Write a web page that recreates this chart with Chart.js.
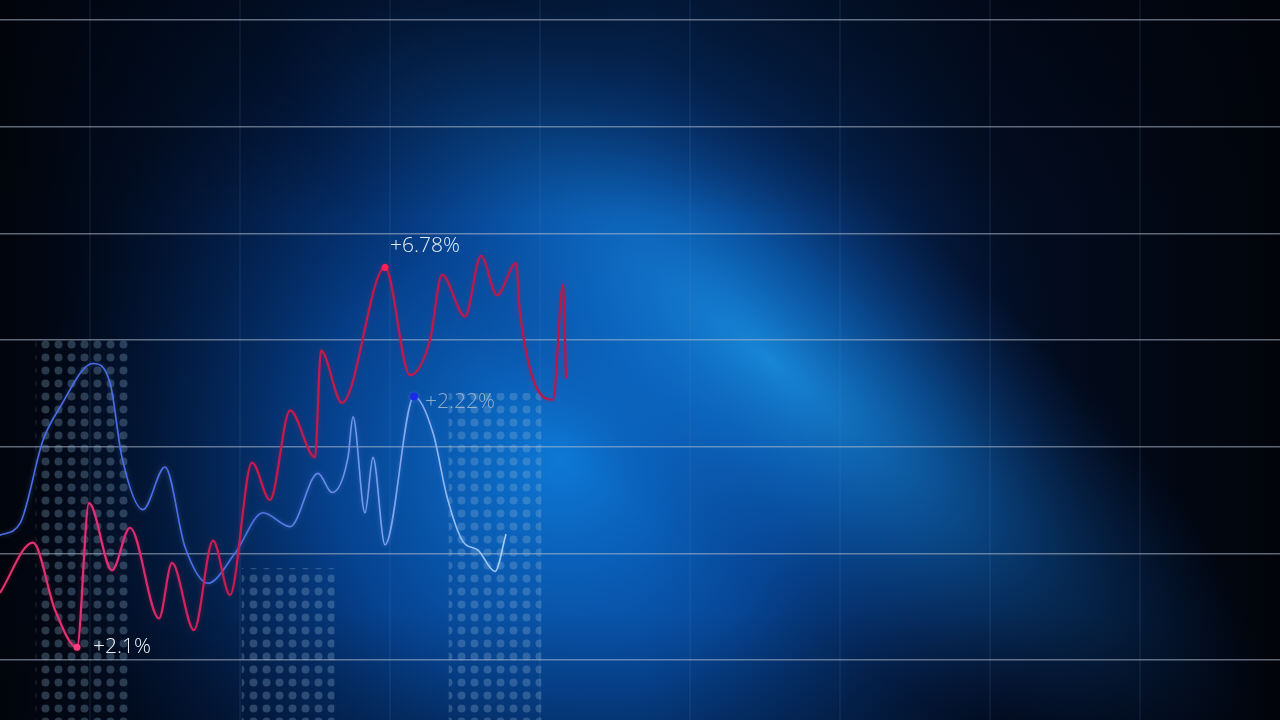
<!DOCTYPE html>
<html>
<head>
  <title>Market Lines</title>
  <script src="https://cdn.jsdelivr.net/npm/chart.js"></script>
  <style>
    html, body { margin: 0; padding: 0; background: #01050d; overflow: hidden; }
    canvas { display: block; }
  </style>
</head>
<body>
  <canvas id="market-chart" width="1280" height="720"></canvas>
  <script>
    // red series (time units, value units)
    var redX = [0, 3.3, 5.5, 7.7, 8.9, 11.2, 13.0, 15.9, 17.2, 19.4, 21.3, 23.0, 25.2, 27.0, 29.0, 31.5, 32.1, 34.2, 38.5, 41.0, 43.0, 44.2, 46.5, 48.1, 49.7, 51.6, 52.0, 55.3, 56.3, 56.6];
    var redY = [0.63, 1.10, 0.47, 0.12, 1.47, 0.84, 1.24, 0.39, 0.91, 0.28, 1.12, 0.61, 1.85, 1.50, 2.34, 1.90, 2.90, 2.41, 3.68, 2.67, 3.00, 3.61, 3.22, 3.79, 3.42, 3.72, 3.25, 2.44, 3.52, 2.64];

    // blue series
    var blueX = [0, 2.0, 4.3, 6.0, 9.3, 11.0, 12.2, 14.3, 16.5, 18.5, 20.8, 23.5, 26.3, 29.0, 31.8, 33.2, 34.8, 35.3, 36.5, 37.3, 38.5, 41.4, 43.3, 44.7, 46.3, 47.8, 49.5, 50.6];
    var blueY = [1.17, 1.28, 2.06, 2.37, 2.78, 2.60, 1.90, 1.41, 1.81, 1.06, 0.72, 1.00, 1.38, 1.25, 1.75, 1.57, 1.90, 2.28, 1.38, 1.90, 1.08, 2.47, 2.13, 1.53, 1.11, 1.03, 0.83, 1.18];

    // dotted volume columns
    var volX = [8.2, 28.8, 49.5];
    var volTop = [3.0, 0.86, 2.5];
    var volBase = -0.6;

    // callouts
    var calloutSeries = ['red', 'blue', 'red'];
    var calloutIndex = [18, 21, 3];
    var calloutText = ['+6.78%', '+2.22%', '+2.1%'];

    var yGrid = [0, 1, 2, 3, 4, 5, 6];
    var xGrid = [9, 24, 39, 54, 69, 84, 99, 114];

    function pts(xs, ys) {
      return xs.map(function (x, i) { return { x: x, y: ys[i] }; });
    }

    function dotPattern() {
      var c = document.createElement('canvas');
      c.width = 13; c.height = 13;
      var g = c.getContext('2d');
      g.fillStyle = 'rgba(150,185,220,0.28)';
      g.beginPath();
      g.arc(6.5, 6.5, 4, 0, Math.PI * 2);
      g.fill();
      return g.createPattern(c, 'repeat');
    }

    var background = {
      id: 'background',
      beforeDraw: function (chart) {
        var ctx = chart.ctx, w = chart.width, h = chart.height;
        ctx.save();
        var base = ctx.createLinearGradient(0, 0, w, 0);
        base.addColorStop(0, '#01040b');
        base.addColorStop(0.25, '#031a40');
        base.addColorStop(0.5, '#06306a');
        base.addColorStop(0.78, '#030d22');
        base.addColorStop(1, '#01040a');
        ctx.fillStyle = base;
        ctx.fillRect(0, 0, w, h);

        var glow = ctx.createRadialGradient(560, 460, 0, 560, 460, 520);
        glow.addColorStop(0, 'rgba(14,125,220,0.95)');
        glow.addColorStop(0.45, 'rgba(8,90,190,0.6)');
        glow.addColorStop(1, 'rgba(4,30,80,0)');
        ctx.fillStyle = glow;
        ctx.fillRect(0, 0, w, h);

        ctx.translate(770, 360);
        ctx.rotate(0.68);
        ctx.scale(1, 0.32);
        var beam = ctx.createRadialGradient(0, 0, 0, 0, 0, 620);
        beam.addColorStop(0, 'rgba(28,150,230,0.8)');
        beam.addColorStop(0.45, 'rgba(15,115,205,0.45)');
        beam.addColorStop(1, 'rgba(10,60,140,0)');
        ctx.fillStyle = beam;
        ctx.fillRect(-700, -700, 1400, 1400);
        ctx.setTransform(1, 0, 0, 1, 0, 0);

        var top = ctx.createLinearGradient(0, 0, 0, h);
        top.addColorStop(0, 'rgba(0,3,10,0.5)');
        top.addColorStop(0.3, 'rgba(0,3,10,0)');
        top.addColorStop(0.85, 'rgba(0,3,10,0)');
        top.addColorStop(1, 'rgba(0,3,10,0.2)');
        ctx.fillStyle = top;
        ctx.fillRect(0, 0, w, h);
        ctx.restore();
      }
    };

    var glowLines = {
      id: 'glowLines',
      beforeDatasetDraw: function (chart, args) {
        if (args.meta.type !== 'line') return;
        chart.ctx.save();
        chart.ctx.shadowColor = args.index === 0 ? 'rgba(200,20,70,0.4)' : 'rgba(90,140,240,0.45)';
        chart.ctx.shadowBlur = 4;
      },
      afterDatasetDraw: function (chart, args) {
        if (args.meta.type !== 'line') return;
        chart.ctx.restore();
      }
    };

    var callouts = {
      id: 'callouts',
      afterDatasetsDraw: function (chart, args, opts) {
        var ctx = chart.ctx, sx = chart.scales.x, sy = chart.scales.y;
        ctx.save();
        ctx.font = '300 21px "Open Sans", sans-serif';
        ctx.textBaseline = 'middle';
        calloutText.forEach(function (t, i) {
          var xs = calloutSeries[i] === 'red' ? redX : blueX;
          var ys = calloutSeries[i] === 'red' ? redY : blueY;
          var px = sx.getPixelForValue(xs[calloutIndex[i]]);
          var py = sy.getPixelForValue(ys[calloutIndex[i]]);
          ctx.fillStyle = opts.colors[i];
          ctx.fillText(t, px + opts.dx[i], py + opts.dy[i]);
        });
        ctx.restore();
      }
    };

    var ctx = document.getElementById('market-chart').getContext('2d');

    var blueGrad = ctx.createLinearGradient(0, 0, 510, 0);
    blueGrad.addColorStop(0, '#4a6ae8');
    blueGrad.addColorStop(0.5, '#4e70e6');
    blueGrad.addColorStop(1, '#a8d2f4');
    var redGrad = ctx.createLinearGradient(0, 0, 570, 0);
    redGrad.addColorStop(0, '#e0306c');
    redGrad.addColorStop(0.2, '#e0307a');
    redGrad.addColorStop(0.4, '#c81a4e');
    redGrad.addColorStop(1, '#b8174a');

    function markerRadius(idx, size) {
      return function (c) { return idx.indexOf(c.dataIndex) >= 0 ? size : 0; };
    }

    var chart = new Chart(ctx, {
      type: 'line',
      data: {
        datasets: [{
          label: 'Red',
          data: pts(redX, redY),
          borderColor: redGrad,
          borderWidth: 2.2,
          cubicInterpolationMode: 'monotone',
          pointRadius: markerRadius([3, 18], 3.5),
          pointBackgroundColor: function (c) { return c.dataIndex === 3 ? '#ff3d7f' : '#ff1f55'; },
          pointBorderWidth: 0,
          order: 1
        }, {
          label: 'Blue',
          data: pts(blueX, blueY),
          borderColor: blueGrad,
          borderWidth: 1.6,
          cubicInterpolationMode: 'monotone',
          pointRadius: markerRadius([21], 4),
          pointBackgroundColor: '#1a2ae8',
          pointBorderWidth: 0,
          order: 2
        }, {
          type: 'bar',
          label: 'Volume',
          data: volX.map(function (x, i) { return { x: x, y: [volBase, volTop[i]] }; }),
          backgroundColor: dotPattern(),
          barThickness: [92, 104, 92],
          borderWidth: 0,
          order: 3
        }]
      },
      options: {
        responsive: false,
        animation: false,
        devicePixelRatio: 1,
        layout: { padding: 0 },
        plugins: {
          legend: { display: false },
          tooltip: { enabled: false },
          callouts: {
            colors: ['#e6edf7', 'rgba(190,200,210,0.75)', '#eef2f8'],
            dx: [5, 11, 16],
            dy: [-21, 5, 0]
          }
        },
        scales: {
          x: {
            type: 'linear',
            offset: false,
            min: 0,
            max: 128,
            afterBuildTicks: function (s) { s.ticks = xGrid.map(function (v) { return { value: v }; }); },
            ticks: { display: false },
            border: { display: false },
            grid: { offset: false, color: 'rgba(90,140,200,0.10)', lineWidth: 2, drawTicks: false }
          },
          y: {
            min: -0.5625,
            max: 6.1875,
            afterBuildTicks: function (s) { s.ticks = yGrid.map(function (v) { return { value: v }; }); },
            ticks: { display: false },
            border: { display: false },
            grid: { color: 'rgba(175,188,205,0.55)', lineWidth: 1.5, drawTicks: false }
          }
        }
      },
      plugins: [background, glowLines, callouts]
    });
  </script>
</body>
</html>
